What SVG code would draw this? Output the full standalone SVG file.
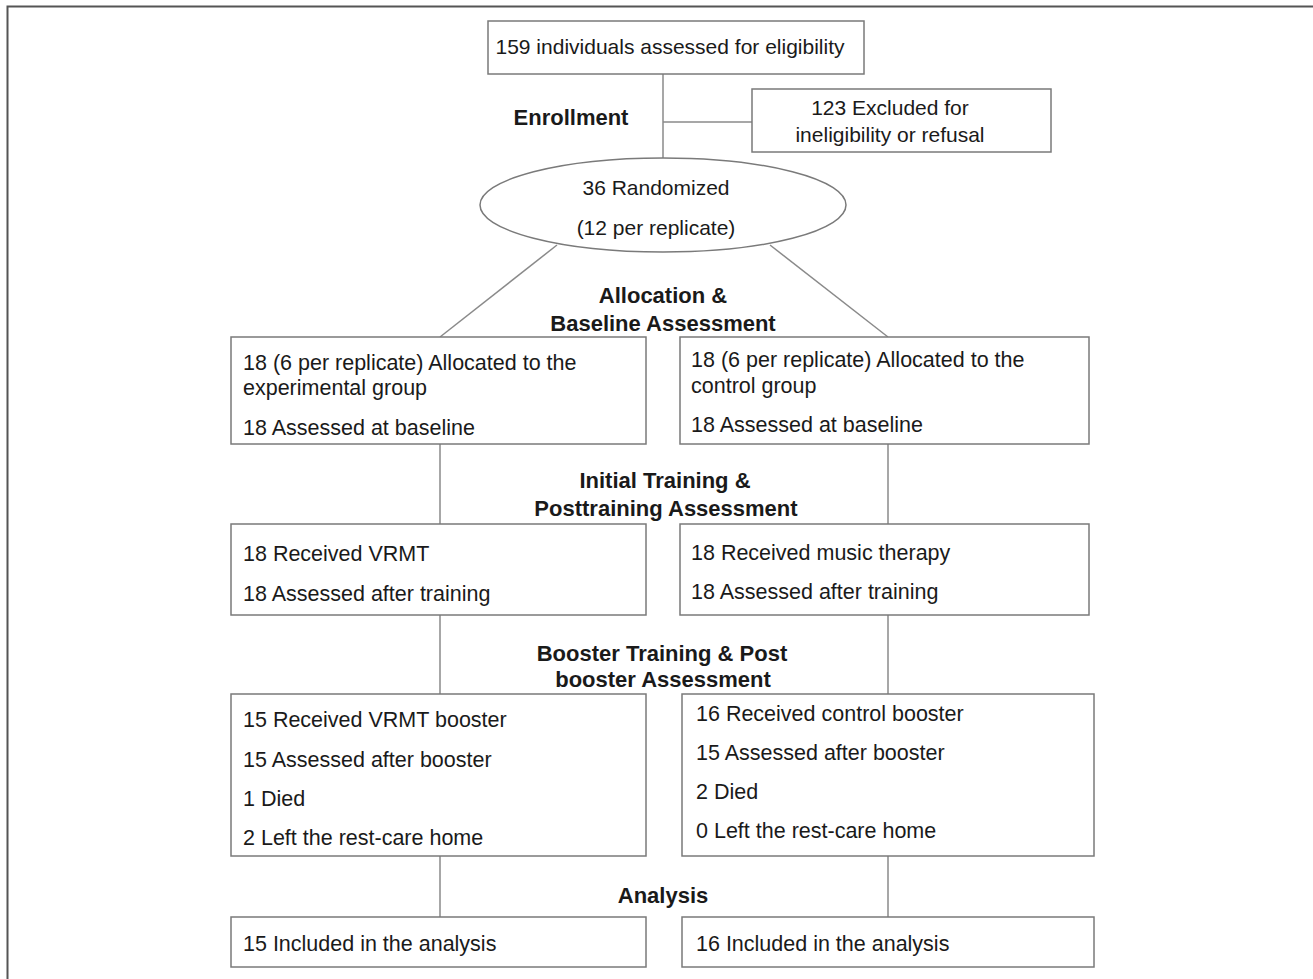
<svg xmlns="http://www.w3.org/2000/svg" width="1313" height="979" viewBox="0 0 1313 979">
<style>
.box{fill:#fff;stroke:#7a7a7a;stroke-width:1.5}
.ln{stroke:#8a8a8a;stroke-width:1.5;fill:none}
.frame{stroke:#555;stroke-width:2;fill:none}
text{font-family:"Liberation Sans",Arial,sans-serif;font-size:21.5px;fill:#1a1a1a}
.c{text-anchor:middle}
.b{font-weight:bold;font-size:22px}
.t{font-size:21px}
</style>
<rect width="1313" height="979" fill="#fff"/>
<path class="frame" d="M7.5,979 V6.5 H1313"/>
<g id="connectors">
<line class="ln" x1="663" y1="74" x2="663" y2="158"/>
<line class="ln" x1="663" y1="122" x2="752" y2="122"/>
<line class="ln" x1="557" y1="245" x2="440" y2="337"/>
<line class="ln" x1="770" y1="245" x2="888" y2="337"/>
<line class="ln" x1="440" y1="444" x2="440" y2="524"/>
<line class="ln" x1="888" y1="444" x2="888" y2="524"/>
<line class="ln" x1="440" y1="615" x2="440" y2="694"/>
<line class="ln" x1="888" y1="615" x2="888" y2="694"/>
<line class="ln" x1="440" y1="856" x2="440" y2="917"/>
<line class="ln" x1="888" y1="856" x2="888" y2="917"/>
</g>
<g id="labels">
<text class="b c" x="571" y="125">Enrollment</text>
<text class="b c" x="663" y="303">Allocation &amp;</text>
<text class="b c" x="663" y="331">Baseline Assessment</text>
<text class="b c" x="665" y="488">Initial Training &amp;</text>
<text class="b c" x="666" y="516">Posttraining Assessment</text>
<text class="b c" x="662" y="661">Booster Training &amp; Post</text>
<text class="b c" x="663" y="687">booster Assessment</text>
<text class="b c" x="663" y="903">Analysis</text>
</g>
<g id="assessed">
<rect class="box" x="488" y="21" width="376" height="53"/>
<text class="c t" x="670" y="54">159 individuals assessed for eligibility</text>
</g>
<g id="excluded">
<rect class="box" x="752" y="89" width="299" height="63"/>
<text class="c t" x="890" y="115">123 Excluded for</text>
<text class="c t" x="890" y="142">ineligibility or refusal</text>
</g>
<g id="randomized">
<ellipse class="box" cx="663" cy="205" rx="183" ry="47"/>
<text class="c t" x="656" y="195">36 Randomized</text>
<text class="c t" x="656" y="235">(12 per replicate)</text>
</g>
<g id="alloc-exp">
<rect class="box" x="231" y="337" width="415" height="107"/>
<text x="243" y="370">18 (6 per replicate) Allocated to the</text>
<text x="243" y="395">experimental group</text>
<text x="243" y="435">18 Assessed at baseline</text>
</g>
<g id="alloc-ctl">
<rect class="box" x="680" y="337" width="409" height="107"/>
<text x="691" y="367">18 (6 per replicate) Allocated to the</text>
<text x="691" y="393">control group</text>
<text x="691" y="432">18 Assessed at baseline</text>
</g>
<g id="train-exp">
<rect class="box" x="231" y="524" width="415" height="91"/>
<text x="243" y="561">18 Received VRMT</text>
<text x="243" y="601">18 Assessed after training</text>
</g>
<g id="train-ctl">
<rect class="box" x="680" y="524" width="409" height="91"/>
<text x="691" y="560">18 Received music therapy</text>
<text x="691" y="599">18 Assessed after training</text>
</g>
<g id="booster-exp">
<rect class="box" x="231" y="694" width="415" height="162"/>
<text x="243" y="727">15 Received VRMT booster</text>
<text x="243" y="767">15 Assessed after booster</text>
<text x="243" y="806">1 Died</text>
<text x="243" y="845">2 Left the rest-care home</text>
</g>
<g id="booster-ctl">
<rect class="box" x="682" y="694" width="412" height="162"/>
<text x="696" y="721">16 Received control booster</text>
<text x="696" y="760">15 Assessed after booster</text>
<text x="696" y="799">2 Died</text>
<text x="696" y="838">0 Left the rest-care home</text>
</g>
<g id="analysis-exp">
<rect class="box" x="231" y="917" width="415" height="50"/>
<text x="243" y="951">15 Included in the analysis</text>
</g>
<g id="analysis-ctl">
<rect class="box" x="682" y="917" width="412" height="50"/>
<text x="696" y="951">16 Included in the analysis</text>
</g>
</svg>
